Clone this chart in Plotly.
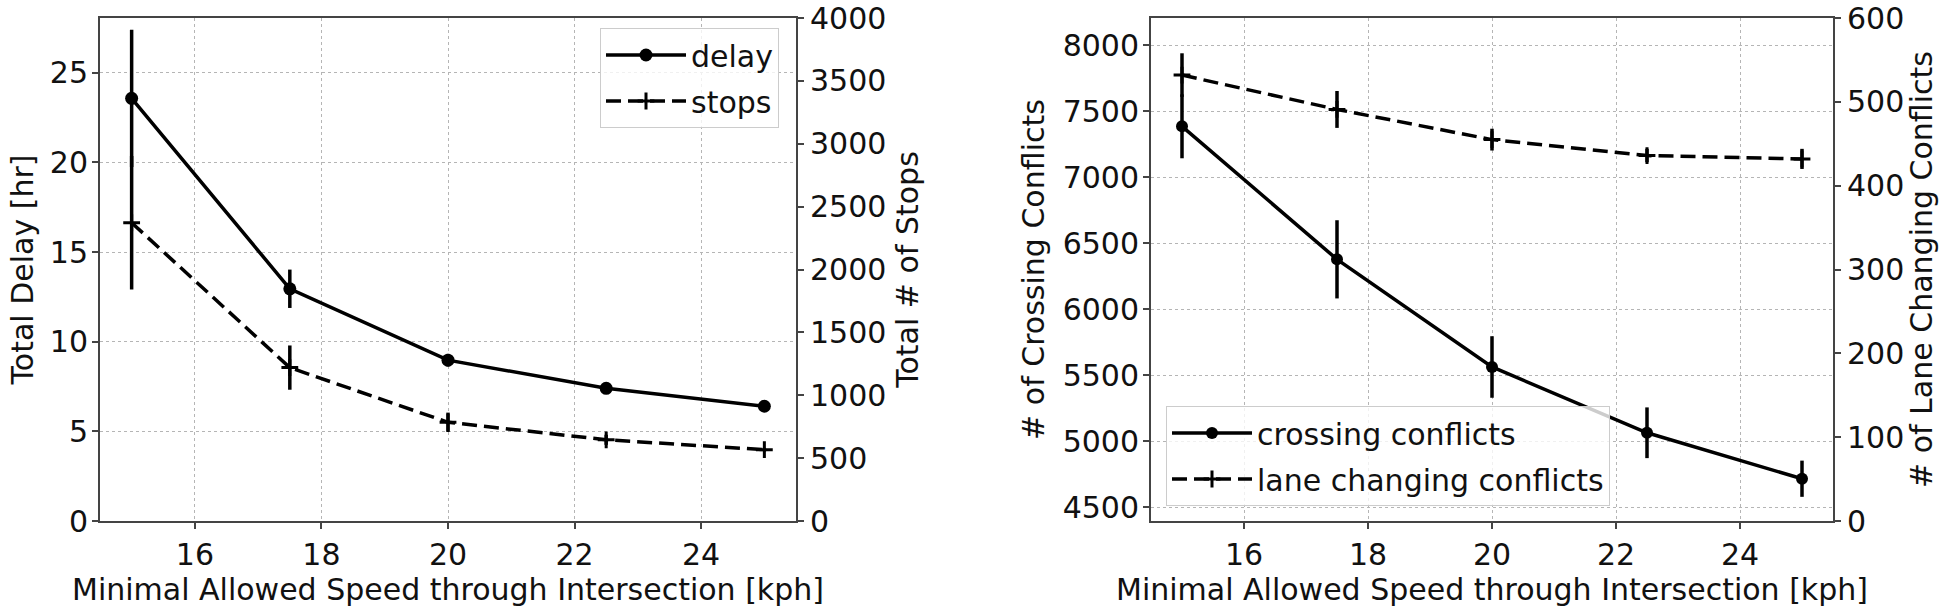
import plotly.graph_objects as go

# ---- data ----
speed = [15, 17.5, 20, 22.5, 25]
delay = [23.57, 12.95, 8.97, 7.40, 6.40]
delay_err = [3.83, 1.07, 0.35, 0.20, 0.20]
stops = [2372, 1220, 785, 646, 567]
stops_err = [531, 176, 77, 40, 15]
crossing = [7385, 6378, 5563, 5065, 4717]
crossing_err = [242, 296, 233, 192, 137]
lane = [532, 491, 455, 436, 432]
lane_err = [26, 22, 13, 8, 12]

x_ticks = [16, 18, 20, 22, 24]
delay_ticks = [0, 5, 10, 15, 20, 25]
stops_ticks = [0, 500, 1000, 1500, 2000, 2500, 3000, 3500, 4000]
crossing_ticks = [4500, 5000, 5500, 6000, 6500, 7000, 7500, 8000]
lane_ticks = [0, 100, 200, 300, 400, 500, 600]

FONT = "DejaVu Sans"
FS = 30
BLACK = "black"
SPINE = "#444444"
GRID = "#b5b5b5"
LW = 3.5

fig = go.Figure()

def err(arr):
    return dict(type="data", array=arr, visible=True, thickness=LW, width=0, color=BLACK)

fig.add_trace(go.Scatter(x=speed, y=delay, name="delay", mode="lines+markers",
                         line=dict(color=BLACK, width=LW),
                         marker=dict(symbol="circle", size=13, color=BLACK),
                         error_y=err(delay_err), xaxis="x", yaxis="y",
                         legend="legend", legendgroup="a"))
fig.add_trace(go.Scatter(x=speed, y=stops, name="stops", mode="lines+markers",
                         line=dict(color=BLACK, width=LW, dash="15px,7px"),
                         marker=dict(symbol="cross-thin", size=12, color=BLACK,
                                     line=dict(color=BLACK, width=3)),
                         error_y=err(stops_err), xaxis="x", yaxis="y2",
                         legend="legend", legendgroup="b"))
fig.add_trace(go.Scatter(x=speed, y=crossing, name="crossing conflicts", mode="lines+markers",
                         line=dict(color=BLACK, width=LW),
                         marker=dict(symbol="circle", size=12, color=BLACK),
                         error_y=err(crossing_err), xaxis="x2", yaxis="y3",
                         legend="legend2", legendgroup="c"))
fig.add_trace(go.Scatter(x=speed, y=lane, name="lane changing conflicts", mode="lines+markers",
                         line=dict(color=BLACK, width=LW, dash="15px,7px"),
                         marker=dict(symbol="cross-thin", size=12, color=BLACK,
                                     line=dict(color=BLACK, width=3)),
                         error_y=err(lane_err), xaxis="x2", yaxis="y4",
                         legend="legend2", legendgroup="d"))

tickfont = dict(family=FONT, size=FS, color="#111111")
titlefont = dict(family=FONT, size=FS, color="#111111")

def xax(domain, anchor):
    return dict(domain=domain, anchor=anchor, range=[14.5, 25.5], tickvals=x_ticks,
                showline=True, linecolor=SPINE, linewidth=2, mirror=True,
                ticks="outside", ticklen=6, tickwidth=1.5, tickcolor=SPINE,
                showgrid=True, gridcolor=GRID, gridwidth=1, griddash="dot",
                zeroline=False, tickfont=tickfont, automargin=False,
                title=dict(text="Minimal Allowed Speed through Intersection [kph]",
                           font=titlefont, standoff=2))

def yax(rng, ticks, title, side, overlay=None, anchor=None, grid=True, standoff=12, lstand=0):
    d = dict(range=rng, tickvals=ticks, side=side,
             showline=True, linecolor=SPINE, linewidth=2,
             ticks="outside", ticklen=6, tickwidth=1.5, tickcolor=SPINE,
             showgrid=grid, gridcolor=GRID, gridwidth=1, griddash="dot",
             zeroline=False, tickfont=tickfont, automargin=False,
             ticklabelstandoff=lstand, ticklabeloverflow="allow",
             title=dict(text=title, font=titlefont, standoff=standoff))
    if overlay:
        d["overlaying"] = overlay
    if anchor:
        d["anchor"] = anchor
    return d

L, R, T, B = 100, 113, 18, 89
W, H = 1946, 610
pw = W - L - R
ph = H - T - B
d1 = [0, (796 - L) / pw]
d2 = [(1151 - L) / pw, 1]

y1 = yax([0, 28.05], delay_ticks, "Total Delay [hr]", "left", anchor="x", standoff=7, lstand=-2)
y2 = yax([0, 4000.5], stops_ticks, "Total # of Stops", "right", overlay="y", anchor="x",
         grid=False, standoff=12, lstand=0)
y3 = yax([4397, 8205], crossing_ticks, "# of Crossing Conflicts", "left", anchor="x2",
         standoff=9, lstand=-2)
y4 = yax([0, 600.1], lane_ticks, "# of Lane Changing Conflicts", "right", overlay="y3",
         anchor="x2", grid=False, standoff=8, lstand=0)

legend_common = dict(font=dict(family=FONT, size=FS, color="#111111"),
                     bgcolor="rgba(255,255,255,0.8)", bordercolor="#cccccc", borderwidth=1,
                     itemwidth=80, tracegroupgap=4, traceorder="grouped")

fig.update_layout(
    width=W, height=H,
    margin=dict(l=L, r=R, t=T, b=B, autoexpand=False),
    paper_bgcolor="white", plot_bgcolor="white",
    showlegend=True,
    xaxis=xax(d1, "y"),
    xaxis2=xax(d2, "y3"),
    yaxis=y1, yaxis2=y2, yaxis3=y3, yaxis4=y4,
    legend=dict(x=(779 - L) / pw, xanchor="right", y=1 - (28 - T) / ph, yanchor="top", **legend_common),
    legend2=dict(x=(1166 - L) / pw, xanchor="left", y=1 - (506 - T) / ph, yanchor="bottom", **legend_common),
)

fig.write_html("out.html", config={"displayModeBar": False},
               post_script="document.body.style.margin='0';document.body.style.overflow='hidden';")
